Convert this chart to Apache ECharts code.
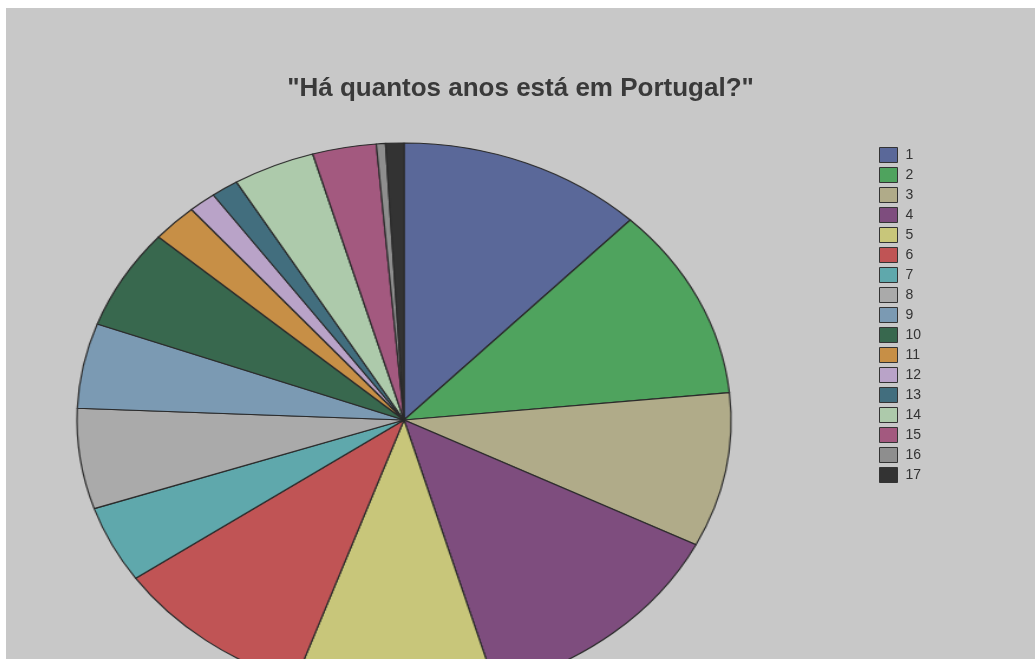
<!DOCTYPE html>
<html>
<head>
<meta charset="utf-8">
<script src="https://cdn.jsdelivr.net/npm/echarts@6/dist/echarts.min.js"></script>
<style>
  html, body { margin: 0; padding: 0; background: #ffffff; }
  #frame {
    position: absolute; left: 6px; top: 8px; width: 1029px; height: 651px;
    background: #c8c8c8; overflow: hidden;
  }
  #pie, #text { position: absolute; left: 0; top: 0; width: 1029px; height: 651px; }
  /* the pie is stretched horizontally into an ellipse around its centre */
  #pie { transform: scaleX(1.1805); transform-origin: 398px 412px; }
</style>
</head>
<body>
<div id="frame">
  <div id="pie"></div>
  <div id="text"></div>
</div>
<script>
// Years living in Portugal (answer) and number of respondents
const categories = ['1', '2', '3', '4', '5', '6', '7', '8', '9', '10', '11', '12', '13', '14', '15', '16', '17'];
const counts = [27, 25, 20, 29, 22, 22, 10, 13, 11, 13, 5, 3, 3, 9, 7, 1, 2];
const palette = ['#5a6899', '#4fa35e', '#b0ab89', '#7e4d7e', '#c8c67a', '#c05455', '#5fa8ac',
                 '#aaaaaa', '#7b9ab3', '#38684e', '#c78f46', '#b9a3c8', '#426e7e', '#adcaab',
                 '#a3597f', '#8e8e8e', '#333333'];
const titleText = '"Há quantos anos está em Portugal?"';

const pieData = categories.map((name, i) => ({ name, value: counts[i] }));

// Pie chart (drawn circular, stretched by CSS into an ellipse)
const pieChart = echarts.init(document.getElementById('pie'), null, { renderer: 'canvas' });
pieChart.setOption({
  animation: false,
  color: palette,
  series: [{
    type: 'pie',
    center: [398, 412],
    radius: 277,
    startAngle: 90,
    clockwise: true,
    avoidLabelOverlap: false,
    label: { show: false },
    labelLine: { show: false },
    itemStyle: { borderColor: '#2b2b2b', borderWidth: 1.2 },
    data: pieData
  }]
});

// Title and legend (unstretched text layer)
const textChart = echarts.init(document.getElementById('text'), null, { renderer: 'canvas' });
textChart.setOption({
  animation: false,
  backgroundColor: 'transparent',
  color: palette,
  title: {
    text: titleText,
    left: 'center',
    top: 63,
    textStyle: {
      fontFamily: '"Liberation Sans", Arial, sans-serif',
      fontSize: 26,
      fontWeight: 'bold',
      color: '#3a3a3a'
    }
  },
  legend: {
    orient: 'vertical',
    left: 868,
    top: 134,
    itemWidth: 18,
    itemHeight: 15,
    itemGap: 4,
    icon: 'rect',
    itemStyle: { borderColor: '#333333', borderWidth: 1 },
    textStyle: {
      fontFamily: '"Liberation Sans", Arial, sans-serif',
      fontSize: 14,
      lineHeight: 15,
      color: '#333333',
      padding: [0, 0, 0, 3]
    },
    data: categories
  },
  series: [{
    type: 'pie',
    center: [-50, -50],
    radius: [0, 0],
    silent: true,
    label: { show: false },
    labelLine: { show: false },
    itemStyle: { borderWidth: 0 },
    data: pieData
  }]
});
</script>
</body>
</html>
